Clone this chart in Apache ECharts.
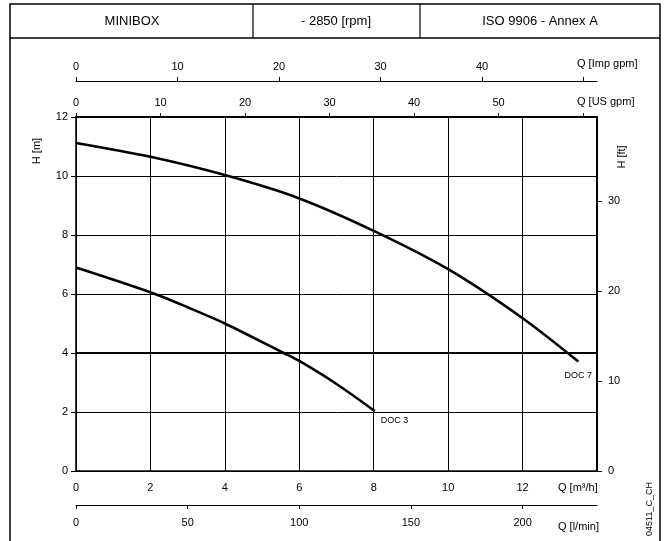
<!DOCTYPE html>
<html>
<head>
<meta charset="utf-8">
<script src="https://cdn.jsdelivr.net/npm/echarts@6/dist/echarts.min.js"></script>
<style>
html, body { margin: 0; padding: 0; background: #fff; }
#chart { width: 664px; height: 541px; }
</style>
</head>
<body>
<div id="chart"></div>
<script>
// header of the sheet
const headerCells = ['MINIBOX', '- 2850 [rpm]', 'ISO 9906 - Annex A'];

// pump curves, Q [m3/h] -> H [m]
const doc7Q = [0, 2, 4, 6, 8, 10, 12, 13.5];
const doc7H = [11.12, 10.65, 10.03, 9.24, 8.14, 6.84, 5.18, 3.71];
const doc3Q = [0, 2, 3, 4, 5.58, 6, 7, 8.03];
const doc3H = [6.9, 6.06, 5.55, 5.0, 4.0, 3.73, 2.95, 2.03];
const curveNames = ['DOC 7', 'DOC 3'];
const refHead = 4;

// scales
const qMax = 14, hMax = 12;
const impPerM3h = 3.6662, usPerM3h = 4.4029, lminPerM3h = 16.6667, ftPerM = 3.28084;
const impTicks = [0, 10, 20, 30, 40, 50];
const usTicks = [0, 10, 20, 30, 40, 50, 60];
const lminTicks = [0, 50, 100, 150, 200];
const ftTicks = [0, 10, 20, 30];

const FONT = 'Liberation Sans, Arial, sans-serif';
const black = '#000';
const lbl = { color: black, fontFamily: FONT, fontSize: 11 };

const chart = echarts.init(document.getElementById('chart'));

const pairs = (xs, ys) => xs.map((x, i) => [x, ys[i]]);

const curve = (name, xs, ys, labelOffset) => ({
    name: name,
    type: 'line',
    xAxisIndex: 0,
    yAxisIndex: 0,
    data: pairs(xs, ys),
    smooth: 0.3,
    showSymbol: false,
    symbol: 'none',
    lineStyle: { color: black, width: 2.6 },
    endLabel: { show: true, formatter: name, offset: labelOffset, color: black, fontFamily: FONT, fontSize: 9 },
    silent: true,
    z: 5
});

const txt = (x, y, text, size, align, rot) => ({
    type: 'text', x: x, y: y, rotation: rot || 0, z: 10,
    style: { text: text, fill: black, font: size + 'px ' + FONT, textAlign: align || 'center', textVerticalAlign: 'middle' }
});

const option = {
    animation: false,
    backgroundColor: '#fff',
    grid: { left: 76, right: 67, top: 117, bottom: 70, containLabel: false },
    xAxis: [
        {   // Q [m3/h]
            type: 'value', position: 'bottom', min: 0, max: qMax, interval: 2,
            axisLine: { onZero: false, lineStyle: { color: black, width: 1.5 } },
            axisTick: { show: false },
            axisLabel: Object.assign({ margin: 11, formatter: v => v < qMax ? v : '' }, lbl),
            splitLine: { show: true, lineStyle: { color: black, width: 1 } }
        },
        {   // Q [l/min]
            type: 'value', position: 'bottom', offset: 34, min: 0, max: qMax * lminPerM3h,
            axisLine: { onZero: false, lineStyle: { color: black, width: 1.2 } },
            axisTick: { show: true, length: 4, customValues: lminTicks, lineStyle: { color: black } },
            axisLabel: Object.assign({ margin: 12, customValues: lminTicks }, lbl),
            splitLine: { show: false }
        },
        {   // Q [US gpm]
            type: 'value', position: 'top', offset: 0, min: 0, max: qMax * usPerM3h,
            axisLine: { onZero: false, lineStyle: { color: black, width: 2 } },
            axisTick: { show: true, length: 4, customValues: usTicks, lineStyle: { color: black } },
            axisLabel: Object.assign({ margin: 9, customValues: usTicks.slice(0, -1) }, lbl),
            splitLine: { show: false }
        },
        {   // Q [Imp gpm]
            type: 'value', position: 'top', offset: 36, min: 0, max: qMax * impPerM3h,
            axisLine: { onZero: false, lineStyle: { color: black, width: 1.2 } },
            axisTick: { show: true, length: 4, customValues: impTicks, lineStyle: { color: black } },
            axisLabel: Object.assign({ margin: 9, customValues: impTicks.slice(0, -1) }, lbl),
            splitLine: { show: false }
        }
    ],
    yAxis: [
        {   // H [m]
            type: 'value', position: 'left', min: 0, max: hMax, interval: 2,
            axisLine: { show: true, onZero: false, lineStyle: { color: black, width: 1.5 } },
            axisTick: { show: true, length: 5, lineStyle: { color: black } },
            axisLabel: Object.assign({ margin: 8 }, lbl),
            splitLine: { show: true, lineStyle: { color: black, width: 1 } }
        },
        {   // H [ft]
            type: 'value', position: 'right', min: 0, max: hMax * ftPerM,
            axisLine: { show: true, onZero: false, lineStyle: { color: black, width: 2 } },
            axisTick: { show: true, length: 5, customValues: ftTicks, lineStyle: { color: black } },
            axisLabel: Object.assign({ margin: 11, customValues: ftTicks }, lbl),
            splitLine: { show: false }
        }
    ],
    series: [
        curve(curveNames[0], doc7Q, doc7H, [-22, 14]),
        curve(curveNames[1], doc3Q, doc3H, [-2, 9]),
        {
            type: 'line', data: [], xAxisIndex: 0, yAxisIndex: 0, silent: true,
            markLine: {
                symbol: 'none', silent: true, label: { show: false },
                lineStyle: { color: black, width: 2.2, type: 'solid' },
                data: [{ yAxis: refHead }]
            }
        }
    ],
    graphic: [
        { type: 'rect', shape: { x: 10, y: 4, width: 650, height: 545 }, z: 10,
          style: { fill: 'none', stroke: black, lineWidth: 1.5 } },
        { type: 'line', shape: { x1: 10, y1: 38, x2: 660, y2: 38 }, z: 10, style: { stroke: black, lineWidth: 1.5 } },
        { type: 'line', shape: { x1: 253, y1: 4, x2: 253, y2: 38 }, z: 10, style: { stroke: black, lineWidth: 1.2 } },
        { type: 'line', shape: { x1: 420, y1: 4, x2: 420, y2: 38 }, z: 10, style: { stroke: black, lineWidth: 1.2 } },
        txt(132, 21, headerCells[0], 13),
        txt(336, 21, headerCells[1], 13),
        txt(540, 21, headerCells[2], 13),
        txt(577, 64, 'Q [Imp gpm]', 11, 'left'),
        txt(577, 102, 'Q [US gpm]', 11, 'left'),
        txt(558, 488, 'Q [m³/h]', 11, 'left'),
        txt(558, 527, 'Q [l/min]', 11, 'left'),
        txt(37, 151, 'H [m]', 11, 'center', Math.PI / 2),
        txt(622, 157, 'H [ft]', 11, 'center', Math.PI / 2),
        txt(650, 509, '04511_C_CH', 9, 'center', Math.PI / 2)
    ]
};

chart.setOption(option);
</script>
</body>
</html>
